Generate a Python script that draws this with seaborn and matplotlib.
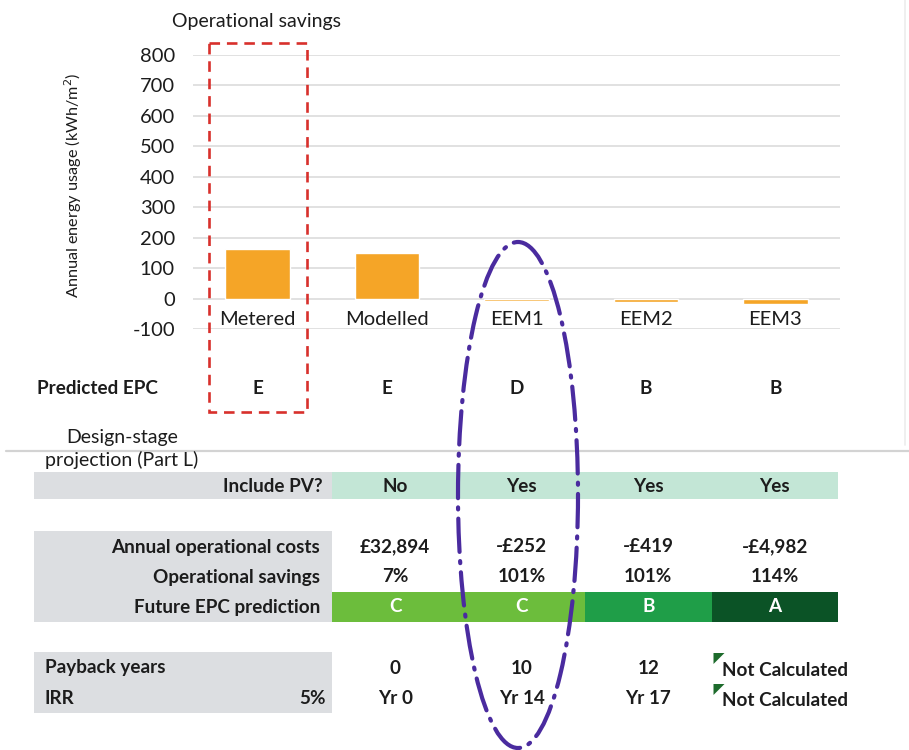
import matplotlib
matplotlib.use("Agg")
import matplotlib.pyplot as plt
import matplotlib.transforms as mtransforms
from matplotlib.patches import Rectangle, Ellipse, Polygon
import seaborn as sns
import pandas as pd

# ---- data ----
categories = ["Metered", "Modelled", "EEM1", "EEM2", "EEM3"]
energy_use = [164, 151, -7, -12, -17]          # kWh/m2 per year
predicted_epc = ["E", "E", "D", "B", "B"]
y_ticks = [-100, 0, 100, 200, 300, 400, 500, 600, 700, 800]

table_cols = ["Modelled", "EEM1", "EEM2", "EEM3"]
include_pv = ["No", "Yes", "Yes", "Yes"]
annual_costs = ["£32,894", "-£252", "-£419", "-£4,982"]
op_savings = ["7%", "101%", "101%", "114%"]
future_epc = ["C", "C", "B", "A"]
payback_years = ["0", "10", "12", "Not Calculated"]
irr_years = ["Yr 0", "Yr 14", "Yr 17", "Not Calculated"]
irr_rate = "5%"

epc_colours = {"A": "#0b5326", "B": "#1f9e48", "C": "#6cbd3c"}

# ---- style ----
sns.set_theme(style="white")
plt.rcParams["font.family"] = ["Lato", "DejaVu Sans"]
TXT = "#1c1c1c"
BAR = "#f5a527"
GREY_BOX = "#dcdee1"
MINT = "#c3e6d6"
FS_AX = 14.5     # chart text
FS_TB = 13.6     # table text

W, H = 909, 750
fig = plt.figure(figsize=(W / 100, H / 100), dpi=100)
fig.patch.set_facecolor("white")

# overlay axes in pixel units for the table and annotations
ov = fig.add_axes([0, 0, 1, 1], zorder=3)
ov.set_xlim(0, W)
ov.set_ylim(H, 0)
ov.axis("off")
ov.patch.set_alpha(0)

# ---- bar chart ----
left, right, top, bottom = 193, 840, 55, 329
ax = fig.add_axes([left / W, 1 - bottom / H, (right - left) / W, (bottom - top) / H], zorder=2)
df = pd.DataFrame({"category": categories, "energy": energy_use})
sns.barplot(data=df, x="category", y="energy", color=BAR, saturation=1,
            width=0.5, ax=ax, zorder=3)
ax.set_xlim(-0.5, len(categories) - 0.5)
ax.set_ylim(y_ticks[0], y_ticks[-1])
ax.set_yticks(y_ticks)
ax.set_yticklabels([str(t) for t in y_ticks], fontsize=FS_AX, color=TXT)
ax.tick_params(axis="y", length=0, pad=13)
ax.set_xticks([])
ax.set_xlabel("")
ax.set_ylabel("")
ax.yaxis.grid(True, color="#d9d9d9", lw=1.1, zorder=0)
ax.set_axisbelow(True)
for s in ax.spines.values():
    s.set_visible(False)
ax.patch.set_alpha(0)

for i, name in enumerate(categories):
    ax.text(i, -70, name, ha="center", va="center", fontsize=FS_AX, color=TXT, zorder=4)

fig.text(256 / W, 1 - 21 / H, "Operational savings", ha="center", va="center",
         fontsize=14, color=TXT)
fig.text(73 / W, 1 - 185 / H, "Annual energy usage (kWh/m$^2$)", rotation=90,
         ha="center", va="center", fontsize=11.7, color=TXT)

# predicted EPC row under each bar
mix = mtransforms.blended_transform_factory(ax.transData, ov.transData)
ov.text(37, 388, "Predicted EPC", ha="left", va="center", fontsize=FS_TB,
        fontweight="bold", color=TXT)
for i, letter in enumerate(predicted_epc):
    ov.text(i, 388, letter, transform=mix, ha="center", va="center",
            fontsize=FS_TB, fontweight="bold", color=TXT)

# separator and section heading
ov.plot([6, W], [451, 451], color="#d3d3d3", lw=1.6, zorder=1)
ov.plot([905, 905], [0, 445], color="#ececec", lw=1.2, zorder=1)
ov.text(122, 438, "Design-stage", ha="center", va="center", fontsize=14, color=TXT)
ov.text(122, 460, "projection (Part L)", ha="center", va="center", fontsize=14, color=TXT)

# ---- table ----
lab_x0, lab_x1 = 34, 332
col_w = (838 - lab_x1) / len(table_cols)
col_centres = [lab_x1 + col_w * (k + 0.5) for k in range(len(table_cols))]

def box(x0, y0, x1, y1, fc):
    ov.add_patch(Rectangle((x0, y0), x1 - x0, y1 - y0, fc=fc, ec="none", zorder=1))

# include PV row
box(lab_x0, 472, lab_x1, 499, GREY_BOX)
box(lab_x1, 472, lab_x1 + col_w * len(table_cols), 499, MINT)
ov.text(323, 486, "Include PV?", ha="right", va="center", fontsize=FS_TB,
        fontweight="bold", color=TXT)
for cx, v in zip(col_centres, include_pv):
    ov.text(cx, 486, v, ha="center", va="center", fontsize=FS_TB, fontweight="bold", color=TXT)

# costs / savings / future EPC
box(lab_x0, 531, lab_x1, 622, GREY_BOX)
for y, lab in zip([547, 577, 607], ["Annual operational costs", "Operational savings",
                                    "Future EPC prediction"]):
    ov.text(320, y, lab, ha="right", va="center", fontsize=FS_TB, fontweight="bold", color=TXT)
for k, (cx, c, s, e) in enumerate(zip(col_centres, annual_costs, op_savings, future_epc)):
    ov.text(cx, 547, c, ha="center", va="center", fontsize=FS_TB, fontweight="bold", color=TXT)
    ov.text(cx, 577, s, ha="center", va="center", fontsize=FS_TB, fontweight="bold", color=TXT)
    box(lab_x1 + col_w * k, 592, lab_x1 + col_w * (k + 1), 622, epc_colours[e])
    ov.text(cx, 607, e, ha="center", va="center", fontsize=FS_TB, fontweight="bold",
            color="white", zorder=2)

# payback / IRR
box(lab_x0, 652, lab_x1, 713, GREY_BOX)
ov.text(45, 668, "Payback years", ha="left", va="center", fontsize=FS_TB,
        fontweight="bold", color=TXT)
ov.text(45, 699, "IRR", ha="left", va="center", fontsize=FS_TB, fontweight="bold", color=TXT)
ov.text(326, 699, irr_rate, ha="right", va="center", fontsize=FS_TB, fontweight="bold", color=TXT)
for k, (cx, p, r) in enumerate(zip(col_centres, payback_years, irr_years)):
    for y, v in ((668, p), (699, r)):
        if v == "Not Calculated":
            x0 = lab_x1 + col_w * k + 2
            ov.add_patch(Polygon([(x0, y - 15), (x0 + 11, y - 15), (x0, y - 4)],
                                 closed=True, fc="#1d6b2c", ec="none", zorder=2))
            ov.text(x0 + 9, y + 2, v, ha="left", va="center", fontsize=FS_TB,
                    fontweight="bold", color=TXT)
        else:
            ov.text(cx, y, v, ha="center", va="center", fontsize=FS_TB,
                    fontweight="bold", color=TXT)

# ---- highlights ----
ov.add_patch(Rectangle((209, 43), 307 - 209, 412 - 43, fill=False, ec="#d8302c",
                       lw=1.9, ls=(0, (4, 2.6)), zorder=5))
ov.add_patch(Ellipse((518, 495), 120, 506, fill=False, ec="#4a2b9f", lw=3,
                     ls=(0, (8, 2.2, 0.5, 2.2)), zorder=6, capstyle="round"))

fig.savefig("out.png", dpi=100, facecolor="white")
